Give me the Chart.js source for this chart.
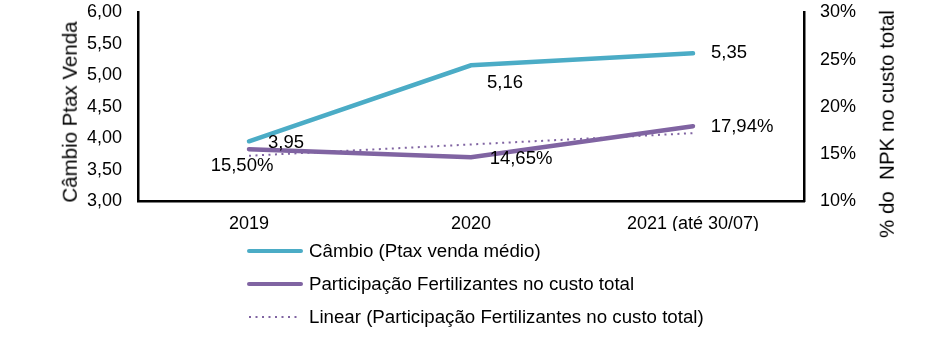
<!DOCTYPE html>
<html lang="pt-BR">
<head>
<meta charset="utf-8">
<title>Câmbio x Participação Fertilizantes</title>
<script src="https://cdn.jsdelivr.net/npm/chart.js@4.4.0/dist/chart.umd.min.js"></script>
<style>
    html, body { margin: 0; padding: 0; background: #fff; }
    #wrap { position: relative; width: 942px; height: 344px; overflow: hidden;
            font-family: "Liberation Sans", Arial, sans-serif; color: #000; }
    #chart { position: absolute; left: 0; top: 0; }
    .axis-title { position: absolute; white-space: nowrap; font-size: 20.5px; line-height: 1;
                  transform: translate(-50%, -50%) rotate(-90deg); }
    #legend { position: absolute; left: 247px; top: 234px; font-size: 18.7px; }
    .lg-item { display: flex; align-items: center; height: 33px; white-space: nowrap; }
    .lg-item svg { margin-right: 6px; }
</style>
</head>
<body>
<div id="wrap">
    <canvas id="chart" width="942" height="344"></canvas>
    <div class="axis-title" style="left:70px; top:112px;">Câmbio Ptax Venda</div>
    <div class="axis-title" style="left:887px; top:124px;">% do&nbsp; NPK no custo total</div>
    <div id="legend"></div>
</div>

<script>
/* ── Data ─────────────────────────────────────────── */
var years = ['2019', '2020', '2021 (até 30/07)'];
var cambio = [3.95, 5.16, 5.35];                 // R$/US$, Ptax venda médio
var participacao = [15.50, 14.65, 17.94];        // % fertilizantes no custo total
var tendencia = [14.8, 16.0, 17.2];              // linha de tendência (linear)
var cambioTicks = [3.0, 3.5, 4.0, 4.5, 5.0, 5.5, 6.0];
var pctTicks = [10, 15, 20, 25, 30];

var FONT = '"Liberation Sans", Arial, sans-serif';
var TEAL = '#4BACC6';
var PURPLE = '#8064A2';

function br(v) { return v.toFixed(2).replace('.', ','); }

// label placement around each point (center of text, px)
var labelStyles = {
    0: { fmt: function (v) { return br(v); }, off: [[37, 2], [34, 18], [36, 0]] },
    1: { fmt: function (v) { return br(v) + '%'; }, off: [[-7, 17], [50, 2], [49, 1]] }
};

/* ── Value labels plugin ──────────────────────────── */
var valueLabels = {
    id: 'valueLabels',
    afterDatasetsDraw: function (chart) {
        var ctx = chart.ctx;
        ctx.save();
        ctx.font = '18.5px ' + FONT;
        ctx.fillStyle = '#000';
        ctx.textAlign = 'center';
        ctx.textBaseline = 'middle';
        Object.keys(labelStyles).forEach(function (i) {
            var st = labelStyles[i];
            var ds = chart.data.datasets[i];
            chart.getDatasetMeta(+i).data.forEach(function (pt, j) {
                ctx.fillText(st.fmt(ds.data[j]), pt.x + st.off[j][0], pt.y + st.off[j][1]);
            });
        });
        ctx.restore();
    }
};

function axisBase() {
    return {
        grid: { display: false, drawTicks: false },
        border: { display: true, color: '#000', width: 2.5 },
        ticks: { color: '#000', font: { family: FONT, size: 18 } }
    };
}

// fixed axis sizes so the plot box stays put
function fixWidth(s) {
    s.width = 138;
    s.paddingTop = 0;
    s.paddingBottom = 0;
}

var xAxis = axisBase();
xAxis.offset = true;
xAxis.ticks.padding = 12;
xAxis.ticks.maxRotation = 0;
xAxis.ticks.autoSkip = false;
xAxis.afterFit = function (s) {
    s.height = 30;
    s.paddingLeft = 0;
    s.paddingRight = 0;
};

var yLeft = axisBase();
yLeft.position = 'left';
yLeft.min = 3;
yLeft.max = 6;
yLeft.ticks.padding = 16;
yLeft.ticks.callback = function (v) { return br(v); };
yLeft.afterBuildTicks = function (s) { s.ticks = cambioTicks.map(function (v) { return { value: v }; }); };
yLeft.afterFit = fixWidth;

var yRight = axisBase();
yRight.position = 'right';
yRight.min = 10;
yRight.max = 30;
yRight.ticks.padding = 16;
yRight.ticks.callback = function (v) { return v + '%'; };
yRight.afterBuildTicks = function (s) { s.ticks = pctTicks.map(function (v) { return { value: v }; }); };
yRight.afterFit = fixWidth;

var chart = new Chart(document.getElementById('chart'), {
    type: 'line',
    data: {
        labels: years,
        datasets: [
            {
                label: 'Câmbio (Ptax venda médio)',
                data: cambio,
                yAxisID: 'y',
                borderColor: TEAL,
                borderWidth: 4.5,
                borderCapStyle: 'round',
                pointRadius: 0,
                tension: 0
            },
            {
                label: 'Participação Fertilizantes no custo total',
                data: participacao,
                yAxisID: 'y1',
                borderColor: PURPLE,
                borderWidth: 4.5,
                borderCapStyle: 'round',
                pointRadius: 0,
                tension: 0
            },
            {
                label: 'Linear (Participação Fertilizantes no custo total)',
                data: tendencia,
                yAxisID: 'y1',
                borderColor: PURPLE,
                borderWidth: 2,
                borderDash: [2, 4.5],
                pointRadius: 0,
                tension: 0
            }
        ]
    },
    options: {
        responsive: false,
        animation: false,
        layout: { padding: { top: 12.5, bottom: 113, left: 0, right: 0 } },
        plugins: { legend: { display: false }, tooltip: { enabled: false } },
        scales: { x: xAxis, y: yLeft, y1: yRight }
    },
    plugins: [valueLabels]
});

/* ── Legend (stacked, left aligned) ───────────────── */
(function () {
    var box = document.getElementById('legend');
    chart.data.datasets.forEach(function (ds) {
        var dash = ds.borderDash ? ' stroke-dasharray="' + ds.borderDash.join(' ') + '"' : '';
        var cap = ds.borderDash ? 'butt' : 'round';
        box.insertAdjacentHTML('beforeend',
            '<div class="lg-item">'
            + '<svg width="56" height="8"><line x1="2" y1="4" x2="54" y2="4" stroke="' + ds.borderColor
            + '" stroke-width="' + Math.min(ds.borderWidth, 4) + '" stroke-linecap="' + cap + '"' + dash + '/></svg>'
            + '<span>' + ds.label + '</span></div>');
    });
})();
</script>
</body>
</html>
